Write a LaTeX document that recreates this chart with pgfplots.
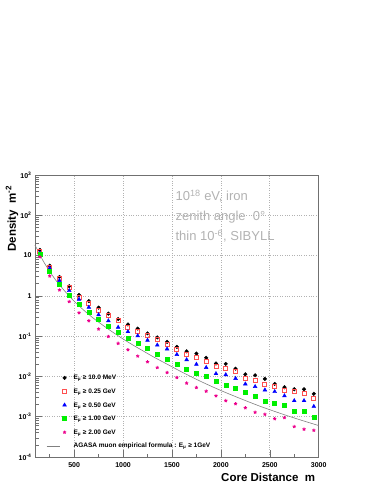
\documentclass[border=0pt]{standalone}
\usepackage{fontspec}
\setmainfont{Liberation Sans}
\usepackage{pgfplots}
\pgfplotsset{compat=1.18}
\definecolor{mured}{HTML}{FF5050}
\definecolor{mugreen}{HTML}{00F000}
\definecolor{framegray}{HTML}{707070}
\pgfplotsset{agasa legend/.style={legend image code/.code={\draw[##1] (-18pt,0pt) -- (-5pt,0pt);}}}

% one series per energy threshold: core distance (m), density (m^-2)
\newcommand{\blackdata}{
(150,13.8) (250,5.6) (350,2.95) (450,1.74) (550,1.05) (650,0.74) (750,0.51)
(850,0.363) (950,0.266) (1050,0.195) (1150,0.154) (1250,0.117) (1350,0.093)
(1450,0.072) (1550,0.054) (1650,0.042) (1750,0.037) (1850,0.029) (1950,0.021)
(2050,0.0205) (2150,0.0156) (2250,0.0113) (2350,0.0107) (2450,0.0087)
(2550,0.0065) (2650,0.0054) (2750,0.0048) (2850,0.0048) (2950,0.0037)}
\newcommand{\reddata}{
(150,12.6) (250,5.0) (350,2.7) (450,1.58) (550,0.92) (650,0.645) (750,0.44)
(850,0.32) (950,0.24) (1050,0.16) (1150,0.129) (1250,0.107) (1350,0.081)
(1450,0.063) (1550,0.047) (1650,0.035) (1750,0.030) (1850,0.023) (1950,0.0175)
(2050,0.0155) (2150,0.0132) (2250,0.0089) (2350,0.0078) (2450,0.0065)
(2550,0.0056) (2650,0.0046) (2750,0.0042) (2850,0.0037) (2950,0.0029)}
\newcommand{\bluedata}{
(150,11.5) (250,4.85) (350,2.4) (450,1.35) (550,0.82) (650,0.52) (750,0.34)
(850,0.24) (950,0.166) (1050,0.129) (1150,0.102) (1250,0.079) (1350,0.060)
(1450,0.048) (1550,0.035) (1650,0.026) (1750,0.020) (1850,0.0166) (1950,0.0117)
(2050,0.011) (2150,0.0089) (2250,0.0065) (2350,0.0056) (2450,0.0046)
(2550,0.0042) (2650,0.0033) (2750,0.0025) (2850,0.0025) (2950,0.0018)}
\newcommand{\greendata}{
(150,10.7) (250,4.2) (350,2.0) (450,1.05) (550,0.62) (650,0.39) (750,0.26)
(850,0.173) (950,0.126) (1050,0.089) (1150,0.066) (1250,0.050) (1350,0.035)
(1450,0.027) (1550,0.020) (1650,0.0148) (1750,0.0123) (1850,0.010) (1950,0.0076)
(2050,0.0062) (2150,0.0050) (2250,0.0040) (2350,0.0033) (2450,0.0024)
(2550,0.00214) (2650,0.00195) (2750,0.00141) (2850,0.00138) (2950,0.00100)}
\newcommand{\magentadata}{
(150,9.3) (250,3.1) (350,1.4) (450,0.72) (550,0.38) (650,0.24) (750,0.15)
(850,0.098) (950,0.066) (1050,0.046) (1150,0.032) (1250,0.023) (1350,0.0166)
(1450,0.0125) (1550,0.0094) (1650,0.0068) (1750,0.0053) (1850,0.0043) (1950,0.0033)
(2050,0.0025) (2150,0.0021) (2250,0.00166) (2350,0.00129) (2450,0.00115)
(2550,0.00089) (2650,0.00095) (2750,0.00057) (2850,0.00049) (2950,0.00046)}
\newcommand{\agasadata}{
(100,18.2) (150,10.5) (200,6.3) (300,2.69) (400,1.35) (500,0.741) (600,0.437)
(700,0.275) (800,0.182) (900,0.123) (1000,0.0851) (1100,0.0603) (1200,0.0437)
(1300,0.0316) (1400,0.0234) (1500,0.0174) (1600,0.0129) (1800,0.00741)
(2000,0.00447) (2200,0.00282) (2400,0.00182) (2600,0.00123) (2800,0.000851)
(3000,0.000603)}

\begin{document}
\begin{tikzpicture}
\useasboundingbox (-35pt,-37pt) rectangle (347pt,457pt);
\begin{axis}[
    at={(0pt,0pt)}, anchor=south west,
    width=283.7pt, height=282pt, scale only axis,
    xmin=100, xmax=3000,
    ymode=log, ymin=1e-4, ymax=1e3,
    xtick={500,1000,1500,2000,2500,3000},
    xticklabels={500,1000,1500,2000,2500,3000},
    minor xtick={250,750,1250,1750,2250,2750},
    ytick={1e-4,1e-3,1e-2,1e-1,1,10,100,1000},
    yticklabels={10\textsuperscript{-4},10\textsuperscript{-3},10\textsuperscript{-2},10\textsuperscript{-1},1,10,10\textsuperscript{2},10\textsuperscript{3}},
    tick pos=left, tick align=inside,
    major tick length=7pt, minor tick length=3.5pt,
    tick style={framegray, line width=0.5pt},
    axis line style={framegray, line width=0.6pt},
    grid=major,
    major grid style={dotted, gray!60, line width=0.6pt},
    xticklabel style={font=\bfseries\fontsize{7}{8}\selectfont, yshift=-2pt},
    yticklabel style={font=\bfseries\fontsize{7}{8}\selectfont},
    xlabel={Core Distance\ \ m},
    ylabel={Density\ \ m\textsuperscript{-2}},
    xlabel style={font=\bfseries\fontsize{11.5}{13}\selectfont, at={(axis description cs:1,-0.071)}, anchor=east},
    ylabel style={font=\bfseries\fontsize{11.5}{13}\selectfont, at={(axis description cs:-0.081,0.975)}, anchor=east},
    legend cell align=left,
    legend style={at={(axis description cs:0.039,0.292)}, anchor=north west,
        draw=none, fill=none, inner sep=0pt, row sep=7.6pt, column sep=7pt,
        font=\bfseries\fontsize{6.5}{7}\selectfont,
        nodes={inner sep=0pt, text height=5pt, text depth=1pt}},
    legend image code/.code={
        \draw[#1, mark repeat=2, mark phase=2] plot coordinates {(-3pt,0pt) (0pt,0pt) (3pt,0pt)};
    },
    clip=false,
]
\addplot[only marks, mark=*, mark size=1.8pt, black] coordinates {\blackdata};
\addlegendentry{E\textsubscript{μ} ≥ 10.0 MeV}
\addplot[only marks, mark=square, mark size=2.0pt, mured, line width=0.9pt] coordinates {\reddata};
\addlegendentry{E\textsubscript{μ} ≥ 0.25 GeV}
\addplot[only marks, mark=triangle*, mark size=2.2pt, blue] coordinates {\bluedata};
\addlegendentry{E\textsubscript{μ} ≥ 0.50 GeV}
\addplot[only marks, mark=square*, mark size=2.0pt, mugreen] coordinates {\greendata};
\addlegendentry{E\textsubscript{μ} ≥ 1.00 GeV}
\addplot[only marks, mark=star, mark size=1.7pt, magenta, line width=0.9pt] coordinates {\magentadata};
\addlegendentry{E\textsubscript{μ} ≥ 2.00 GeV}
\addplot[gray, line width=0.6pt, smooth, agasa legend] coordinates {\agasadata};
\addlegendentry{AGASA muon empirical formula : E\textsubscript{μ} ≥ 1GeV}
\node[anchor=west, text=gray!60, font=\fontsize{13}{15}\selectfont] at (axis description cs:0.483,0.926) {10\textsuperscript{18} eV, iron};
\node[anchor=west, text=gray!60, font=\fontsize{13}{15}\selectfont] at (axis description cs:0.483,0.852) {zenith angle\ \ 0°};
\node[anchor=west, text=gray!60, font=\fontsize{13}{15}\selectfont] at (axis description cs:0.483,0.784) {thin 10\textsuperscript{-6}, SIBYLL};
\end{axis}
\end{tikzpicture}
\end{document}
